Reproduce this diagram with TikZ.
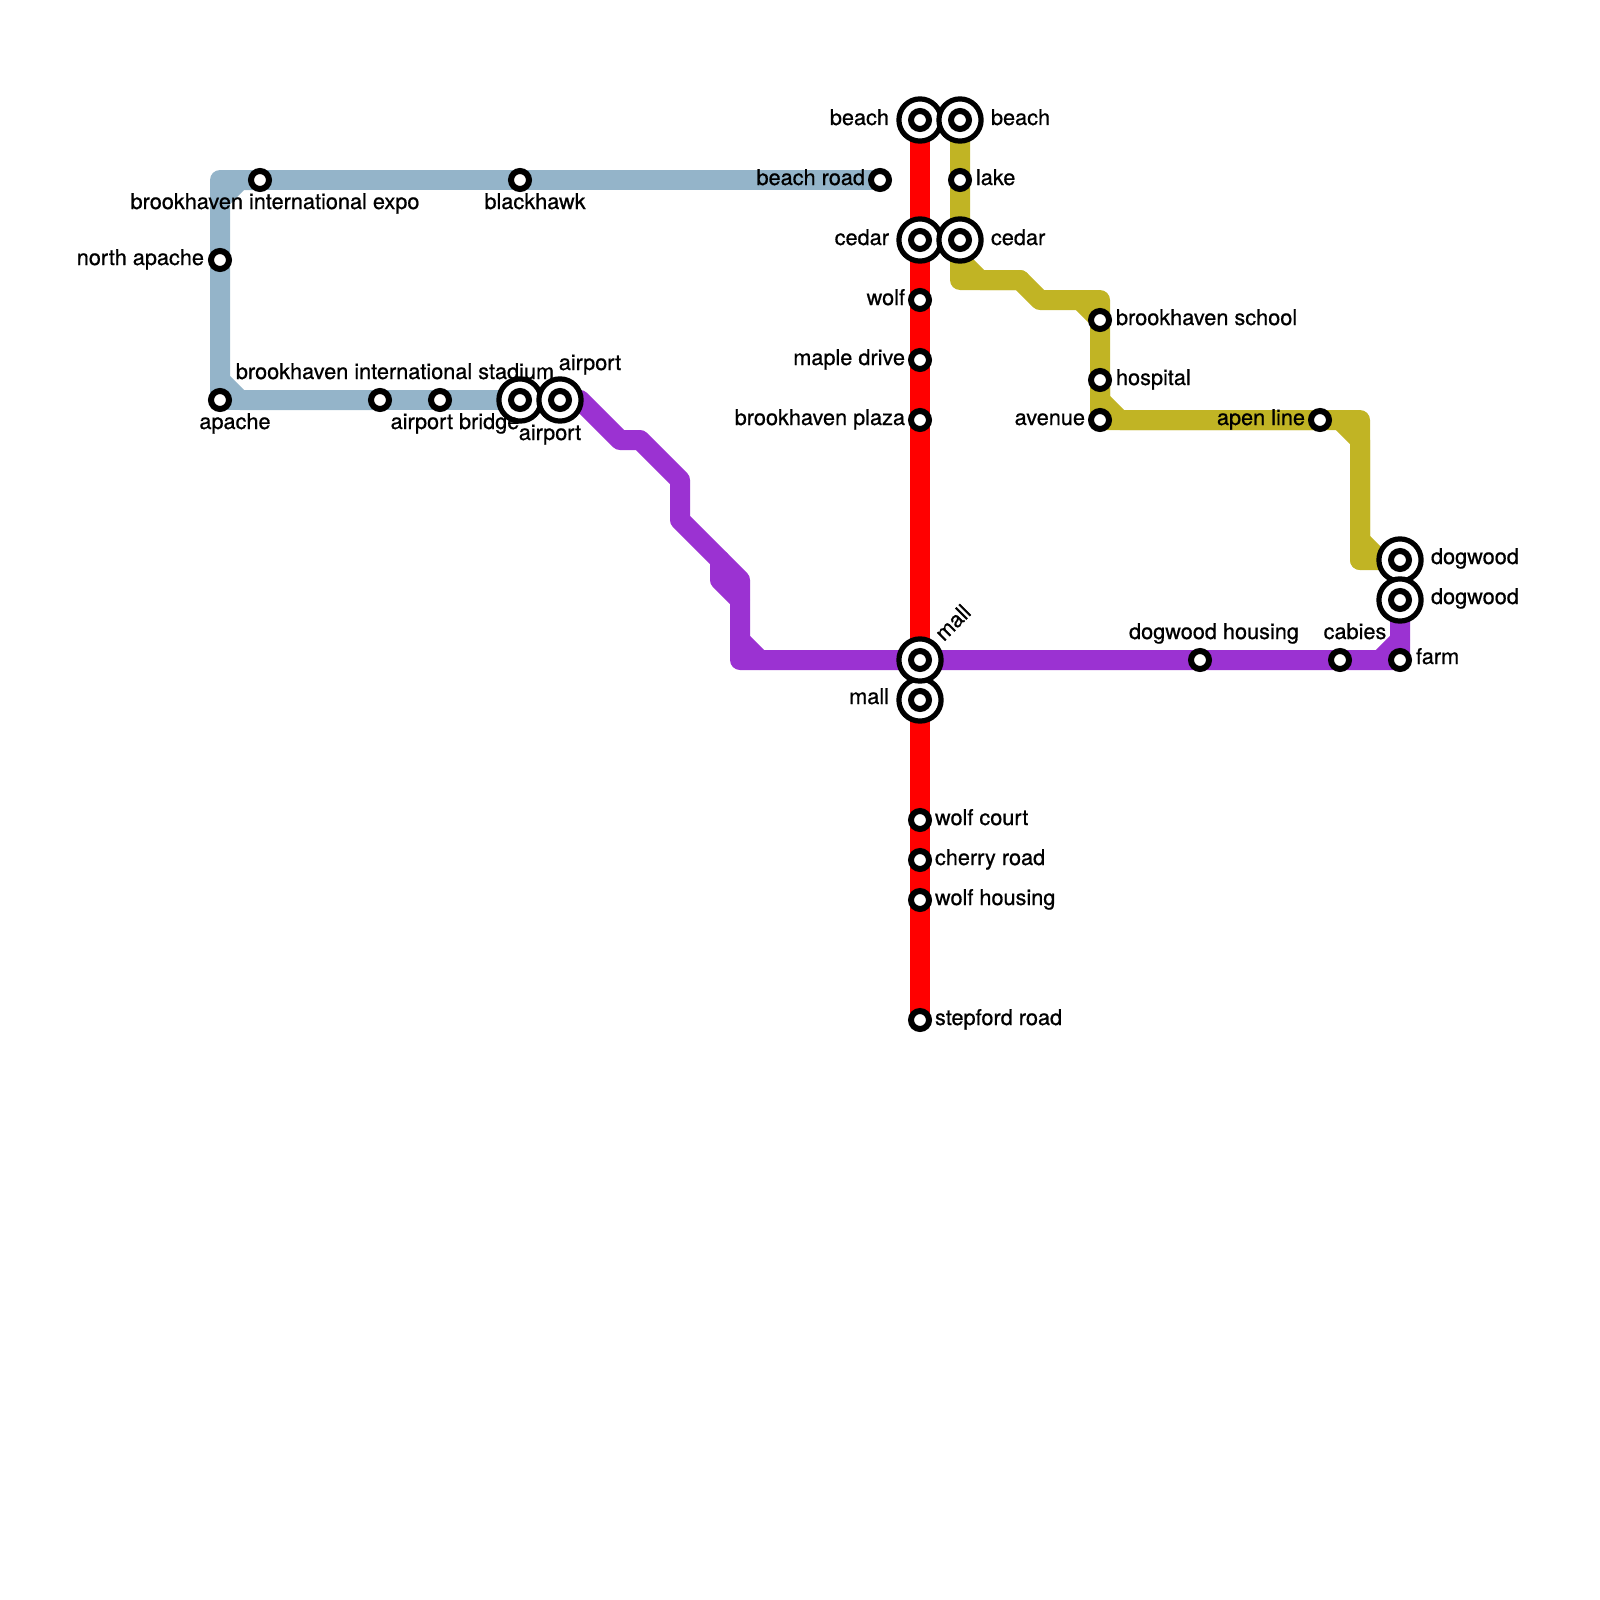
\documentclass[tikz,border=0pt]{standalone}
\usepackage{fontspec}
\setmainfont[FakeBold=0.7]{TeX Gyre Heros}
\usetikzlibrary{backgrounds}
\definecolor{lineblue}{HTML}{94B4C9}
\definecolor{linered}{HTML}{FF0000}
\definecolor{linepurple}{HTML}{9B32D2}
\definecolor{lineyellow}{HTML}{C1B424}
\tikzset{
  stop/.style={circle,draw=black,fill=white,line width=3pt,inner sep=0pt,outer sep=0pt,minimum size=9pt},
  hub/.style={circle,draw=black,fill=white,line width=2.6pt,inner sep=0pt,outer sep=0pt,minimum size=21.1pt,
    path picture={\draw[black,line width=3pt] (path picture bounding box.center) circle (4.5pt);}},
  metro/.style={line width=10pt,line join=round,line cap=round},
  txt/.style={inner sep=0pt,outer sep=0pt,font=\fontsize{10.85pt}{12pt}\selectfont,text=black},
  tl/.style={txt,anchor=base west},
  tr/.style={txt,anchor=base east},
  tc/.style={txt,anchor=base}
}
\begin{document}
\begin{tikzpicture}[x=0.5pt,y=-0.5pt]
\useasboundingbox (0,0) rectangle (1600,1600);
% blue line stations
\node[stop] (apache) at (220,400) {};
\node[stop] (napache) at (220,260) {};
\node[stop] (expo) at (260,180) {};
\node[stop] (blackhawk) at (520,180) {};
\node[stop] (beachroad) at (880,180) {};
\node[stop] (stadium) at (380,400) {};
\node[stop] (bridge) at (440,400) {};
\node[hub] (airportA) at (520,400) {};
\node[hub] (airportB) at (560,400) {};
% red line stations
\node[hub] (beachA) at (920,120) {};
\node[hub] (cedarA) at (920,240) {};
\node[stop] (wolf) at (920,300) {};
\node[stop] (maple) at (920,360) {};
\node[stop] (plaza) at (920,420) {};
\node[hub] (mallB) at (920,700) {};
\node[hub] (mallA) at (920,660) {};
\node[stop] (court) at (920,820) {};
\node[stop] (cherry) at (920,860) {};
\node[stop] (housing) at (920,900) {};
\node[stop] (stepford) at (920,1020) {};
% yellow line stations
\node[hub] (beachB) at (960,120) {};
\node[stop] (lake) at (960,180) {};
\node[hub] (cedarB) at (960,240) {};
\node[stop] (school) at (1100,320) {};
\node[stop] (hospital) at (1100,380) {};
\node[stop] (avenue) at (1100,420) {};
\node[stop] (apen) at (1320,420) {};
\node[hub] (dogwoodA) at (1400,560) {};
\node[hub] (dogwoodB) at (1400,600) {};
% purple line stations
\node[stop] (dhousing) at (1200,660) {};
\node[stop] (cabies) at (1340,660) {};
\node[stop] (farm) at (1400,660) {};
% bends
\coordinate (b1) at (220,180);
\coordinate (b2) at (220,200);
\coordinate (b3) at (240,180);
\coordinate (b4) at (220,380);
\coordinate (b5) at (240,400);
\coordinate (y1) at (960,280);
\coordinate (y2) at (960,260);
\coordinate (y3) at (980,280);
\coordinate (y4) at (1020,280);
\coordinate (y5) at (1040,300);
\coordinate (y6) at (1100,300);
\coordinate (y7) at (1080,300);
\coordinate (y8) at (1100,400);
\coordinate (y9) at (1120,420);
\coordinate (y10) at (1360,420);
\coordinate (y11) at (1340,420);
\coordinate (y12) at (1360,440);
\coordinate (y13) at (1360,560);
\coordinate (y14) at (1360,540);
\coordinate (y15) at (1380,560);
\coordinate (p1) at (580,400);
\coordinate (p2) at (620,440);
\coordinate (p3) at (640,440);
\coordinate (p4) at (680,480);
\coordinate (p5) at (680,520);
\coordinate (p6) at (720,560);
\coordinate (p7) at (740,580);
\coordinate (p8) at (720,580);
\coordinate (p9) at (740,600);
\coordinate (p10) at (740,660);
\coordinate (p11) at (740,640);
\coordinate (p12) at (760,660);
\coordinate (p13) at (1380,660);
\coordinate (p14) at (1400,640);
\begin{pgfonlayer}{background}
\draw[metro,lineblue] (beachroad.center) -- (blackhawk.center) -- (expo.center) -- (b1) -- (napache.center) -- (apache.center) -- (stadium.center) -- (bridge.center) -- (airportA.center);
\draw[metro,lineblue] (expo.center) -- (b3) -- (b2) -- (napache.center);
\draw[metro,lineblue] (napache.center) -- (b4) -- (b5) -- (stadium.center);
\draw[metro,linered] (beachA.center) -- (cedarA.center) -- (wolf.center) -- (maple.center) -- (plaza.center) -- (mallA.center) -- (mallB.center) -- (court.center) -- (cherry.center) -- (housing.center) -- (stepford.center);
\draw[metro,lineyellow] (beachB.center) -- (lake.center) -- (cedarB.center) -- (y1) -- (y4) -- (y5) -- (y6) -- (school.center) -- (hospital.center) -- (avenue.center) -- (apen.center) -- (y10) -- (y13) -- (dogwoodA.center);
\draw[metro,lineyellow] (cedarB.center) -- (y2) -- (y3) -- (y4);
\draw[metro,lineyellow] (y7) -- (school.center);
\draw[metro,lineyellow] (hospital.center) -- (y8) -- (y9) -- (apen.center);
\draw[metro,lineyellow] (y11) -- (y12) -- (y13);
\draw[metro,lineyellow] (y14) -- (y15) -- (dogwoodA.center);
\draw[metro,linepurple] (airportB.center) -- (p1) -- (p2) -- (p3) -- (p4) -- (p5) -- (p6) -- (p7) -- (p10) -- (mallA.center) -- (dhousing.center) -- (cabies.center) -- (farm.center) -- (dogwoodB.center);
\draw[metro,linepurple] (p6) -- (p8) -- (p9);
\draw[metro,linepurple] (p11) -- (p12);
\draw[metro,linepurple] (p13) -- (p14);
\end{pgfonlayer}
% labels
\node[tc] (tExpo) at (275,209) {brookhaven international expo};
\node[tr] (tNapache) at (204,265) {north apache};
\node[tc] (tStadium) at (395,379) {brookhaven international stadium};
\node[tc] (tApache) at (235,429) {apache};
\node[tc] (tBridge) at (455,429) {airport bridge};
\node[tc] (tAirA) at (550,440) {airport};
\node[tc] (tAirB) at (590,370) {airport};
\node[tc] (tBlack) at (535,209) {blackhawk};
\node[tr] (tBeachRoad) at (865,185) {beach road};
\node[tr] (tBeachA) at (889,125) {beach};
\node[tl] (tBeachB) at (991,125) {beach};
\node[tl] (tLake) at (976,185) {lake};
\node[tr] (tCedarA) at (889,245) {cedar};
\node[tl] (tCedarB) at (991,245) {cedar};
\node[tr] (tWolf) at (905,305) {wolf};
\node[tr] (tMaple) at (905,365) {maple drive};
\node[tr] (tPlaza) at (905,425) {brookhaven plaza};
\node[tl] (tSchool) at (1116,325) {brookhaven school};
\node[tl] (tHospital) at (1116,385) {hospital};
\node[tr] (tAvenue) at (1085,425) {avenue};
\node[tr] (tApen) at (1305,425) {apen line};
\node[tl] (tDogA) at (1431,564) {dogwood};
\node[tl] (tDogB) at (1431,604) {dogwood};
\node[tl] (tFarm) at (1416,664) {farm};
\node[tc] (tCabies) at (1355,639) {cabies};
\node[tc] (tDHousing) at (1214,639) {dogwood housing};
\node[tl,rotate=45] (tMallA) at (944,642) {mall};
\node[tr] (tMallB) at (889,704) {mall};
\node[tl] (tCourt) at (935,825) {wolf court};
\node[tl] (tCherry) at (935,865) {cherry road};
\node[tl] (tHousing) at (935,905) {wolf housing};
\node[tl] (tStepford) at (935,1025) {stepford road};
\end{tikzpicture}
\end{document}
